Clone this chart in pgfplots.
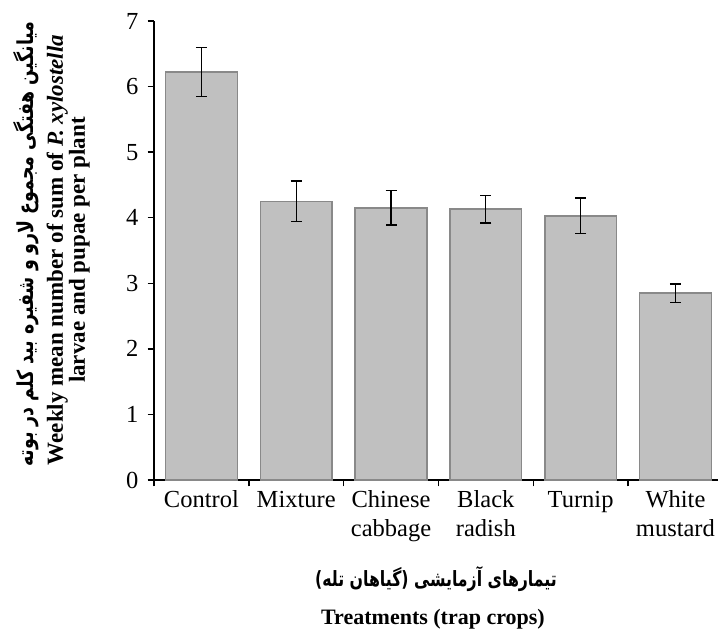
\documentclass[border=0pt]{standalone}
\usepackage{fontspec}
\setmainfont{Liberation Serif}
\newfontfamily\persianfonty[Script=Arabic, FakeStretch=0.79]{DejaVu Sans}
\newfontfamily\persianfontx[Script=Arabic, FakeStretch=0.75]{DejaVu Sans}
\TeXXeTstate=1
\usepackage{pgfplots}
\pgfplotsset{compat=1.18}
\definecolor{barfill}{RGB}{192,192,192}
\definecolor{baredge}{RGB}{137,137,137}
\begin{document}
\begin{tikzpicture}
\begin{axis}[
  scale only axis,
  width=282pt, height=229.5pt,
  xmin=-0.5, xmax=5.449, ymin=0, ymax=7,
  axis x line*=bottom, axis y line*=left,
  axis line style={-, line width=1.3pt, black},
  ytick={0,1,...,7},
  minor ytick={0,1,...,7},
  xtick={0,1,...,5},
  minor xtick={-0.5,0.5,1.5,2.5,3.5,4.5},
  xticklabels={Control, Mixture, Chinese\\cabbage, Black\\radish, Turnip, White\\mustard},
  tick align=outside,
  major tick length=0pt,
  minor tick length=3.2pt,
  minor tick style={line width=0.7pt, black},
  /pgf/number format/assume math mode=true,
  yticklabel style={font=\fontsize{12.25}{14.5}\selectfont, xshift=-4.3pt},
  xticklabel style={font=\fontsize{12.25}{14.5}\selectfont, align=center, yshift=-1.9pt},
  ybar, bar width=35.85pt,
  clip=false,
]
\addplot[fill=barfill, draw=baredge, line width=0.75pt,
  error bars/.cd, y dir=both, y explicit,
  error bar style={line width=0.6pt, black},
  error mark options={rotate=90, mark size=2.75pt, line width=0.6pt, black}]
  table[x=x, y=y, y error=e] {
  x y e
  0 6.22 0.37
  1 4.25 0.31
  2 4.15 0.26
  3 4.13 0.21
  4 4.03 0.27
  5 2.85 0.14
};
\end{axis}
\node[rotate=90, anchor=base, font=\persianfonty\bfseries\fontsize{11}{12}\selectfont] at (-60pt,118pt) {\beginR میانگین هفتگی مجموع لارو و شفیره بید کلم در بوته\endR};
\node[rotate=90, anchor=base, font=\bfseries\fontsize{11.5}{12}\selectfont] at (-45.5pt,115pt) {Weekly mean number of sum of \textit{P. xylostella}};
\node[rotate=90, anchor=base, font=\bfseries\fontsize{11.5}{12}\selectfont] at (-34.5pt,115pt) {larvae and pupae per plant};
\node[anchor=base, font=\persianfontx\bfseries\fontsize{10.5}{12}\selectfont] at (141pt,-53pt) {\beginR تیمارهای آزمایشی (گیاهان تله)\endR};
\node[anchor=base, font=\bfseries\fontsize{11}{12}\selectfont] at (139.5pt,-72pt) {Treatments (trap crops)};
\pgfresetboundingbox
\path (-77pt,-76pt) rectangle (282pt,240pt);
\end{tikzpicture}
\end{document}
